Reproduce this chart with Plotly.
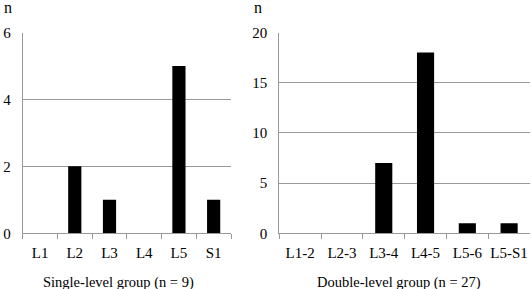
import plotly.graph_objects as go

single_cats = ["L1", "L2", "L3", "L4", "L5", "S1"]
single_vals = [0, 2, 1, 0, 5, 1]
double_cats = ["L1-2", "L2-3", "L3-4", "L4-5", "L5-6", "L5-S1"]
double_vals = [0, 0, 7, 18, 1, 1]
single_title = "Single-level group (n = 9)"
double_title = "Double-level group (n = 27)"

W, H = 531, 289
FONT = "Liberation Serif"
GRID = "#999999"

fig = go.Figure()
fig.add_trace(go.Bar(x=single_cats, y=single_vals, marker=dict(color="black", line=dict(width=0)),
                     xaxis="x", yaxis="y", width=0.38))
fig.add_trace(go.Bar(x=double_cats, y=double_vals, marker=dict(color="black", line=dict(width=0)),
                     xaxis="x2", yaxis="y2", width=0.41))

ybot = (H - 233.3) / H
ytop = (H - 32.5) / H

xcommon = dict(type="category", showgrid=False, showline=True, linecolor=GRID, linewidth=1,
               ticks="outside", tickson="boundaries", ticklen=5, tickcolor=GRID,
               tickfont=dict(family=FONT, size=15, color="black"), zeroline=False,
               ticklabelstandoff=6, tickangle=0, automargin=False)
ycommon = dict(showgrid=True, gridcolor=GRID, gridwidth=1, showline=True, linecolor=GRID,
               linewidth=1, ticks="", tickfont=dict(family=FONT, size=15, color="black"),
               zeroline=False, ticklabelstandoff=8, automargin=False)

fig.update_layout(
    width=W, height=H, margin=dict(l=0, r=0, t=0, b=0, autoexpand=False),
    paper_bgcolor="white", plot_bgcolor="white", showlegend=False,
    font=dict(family=FONT),
    xaxis=dict(domain=[22.7 / W, 231 / W], anchor="y", **xcommon),
    yaxis=dict(domain=[ybot, ytop], anchor="x", range=[0, 6], tickvals=[0, 2, 4, 6], **ycommon),
    xaxis2=dict(domain=[279.3 / W, 530 / W], anchor="y2", **xcommon),
    yaxis2=dict(domain=[ybot, ytop], anchor="x2", range=[0, 20], tickvals=[0, 5, 10, 15, 20], **ycommon),
    annotations=[
        dict(text="n", x=7.5 / W, y=1 - 8 / H, xref="paper", yref="paper", showarrow=False,
             font=dict(family=FONT, size=16, color="black"), xanchor="center", yanchor="middle"),
        dict(text="n", x=258 / W, y=1 - 8 / H, xref="paper", yref="paper", showarrow=False,
             font=dict(family=FONT, size=16, color="black"), xanchor="center", yanchor="middle"),
        dict(text=single_title, x=118 / W, y=1 - 282 / H, xref="paper", yref="paper", showarrow=False,
             font=dict(family=FONT, size=14.5, color="black"), xanchor="center", yanchor="middle"),
        dict(text=double_title, x=399 / W, y=1 - 282 / H, xref="paper", yref="paper", showarrow=False,
             font=dict(family=FONT, size=14.5, color="black"), xanchor="center", yanchor="middle"),
    ],
)

fig.write_html("out.html")
